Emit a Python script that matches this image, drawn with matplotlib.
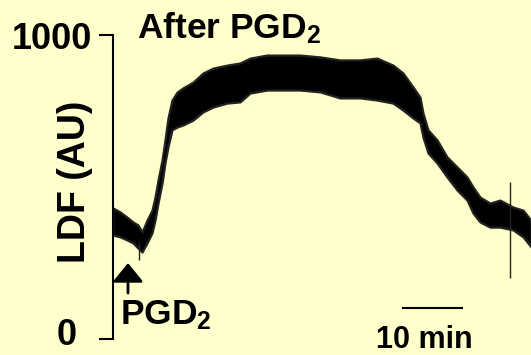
import numpy as np
import matplotlib.pyplot as plt

plt.rcParams['font.family'] = 'Liberation Sans'
plt.rcParams['font.weight'] = 'bold'
plt.rcParams['mathtext.fontset'] = 'custom'
plt.rcParams['mathtext.rm'] = 'Liberation Sans:bold'
plt.rcParams['mathtext.it'] = 'Liberation Sans:bold'
plt.rcParams['mathtext.bf'] = 'Liberation Sans:bold'

bg = '#FFFFCC'

# LDF trace envelope (min after start of recording, AU)
time_min = [0.0, 1.19, 2.37, 3.39, 4.24, 4.92, 5.76, 6.61, 7.12, 7.63,
            8.31, 8.81, 9.32, 10.0, 10.85, 11.86, 13.56, 15.25, 16.95,
            19.32, 21.53, 23.22, 26.1, 28.81, 31.69, 35.08, 38.47, 41.86,
            44.75, 47.46, 49.15, 50.85, 52.03, 52.54, 53.39, 54.92, 56.61,
            58.31, 60.0, 61.02, 62.2, 63.9, 65.59, 67.8, 69.49, 70.85]
ldf_upper = [431, 418, 401, 385, 375, 352, 391, 424, 467, 523,
             589, 655, 727, 786, 812, 826, 845, 875, 891,
             901, 908, 924, 934, 934, 934, 928, 918, 918,
             924, 901, 875, 829, 796, 743, 688, 655, 599,
             566, 533, 500, 467, 447, 457, 434, 424, 391]
ldf_lower = [342, 336, 326, 316, 299, 286, 316, 349, 391, 447,
             513, 579, 632, 688, 697, 704, 720, 747, 763,
             776, 780, 809, 819, 819, 819, 813, 793, 793,
             786, 776, 753, 727, 711, 664, 612, 579, 533,
             490, 457, 414, 385, 368, 368, 359, 336, 303]

# isolated spikes in the trace
spike_time = [4.4, 67.3]
spike_lo = [260, 201]
spike_hi = [320, 516]

pgd2_time = 2.54
scalebar_start = 49.15
scalebar_len = 10

fig = plt.figure(figsize=(5.31, 3.55), dpi=100, facecolor=bg)
ax = fig.add_axes([113 / 531, 16 / 355, 418 / 531, 304 / 355])
ax.set_facecolor(bg)

ax.fill_between(time_min, ldf_lower, ldf_upper, facecolor='black',
                edgecolor='#222222', lw=1.6)
ax.vlines(spike_time, spike_lo, spike_hi, color='#222222', lw=1)

ax.set_xlim(0, 418 / 5.9)
ax.set_ylim(0, 1000)
for s in ['top', 'right', 'bottom']:
    ax.spines[s].set_visible(False)
ax.spines['left'].set_linewidth(1.5)
ax.set_xticks([])
ax.set_yticks([0, 1000])
ax.set_yticklabels([])
ax.tick_params(axis='y', length=10, width=1.5, direction='out')

ytr = ax.get_yaxis_transform()
ax.text(-0.05, 985, '1000', transform=ytr, ha='right', va='center',
        fontsize=26, fontweight='bold')
ax.text(-0.086, -20, '0', transform=ytr, ha='right', va='baseline',
        fontsize=26, fontweight='bold', clip_on=False)

fig.text(75 / 531, 1 - 182 / 355, 'LDF (AU)', rotation=90, ha='center',
         va='center', fontsize=27, fontweight='bold')

fig.text(137 / 531, 1 - 38 / 355, 'After PGD$_2$', ha='left',
         va='baseline', fontsize=25.5, fontweight='bold')

# drug application marker
ax.annotate('', xy=(pgd2_time, 250), xytext=(pgd2_time, 151),
            arrowprops=dict(arrowstyle='-|>,head_length=0.58,head_width=0.47',
                            mutation_scale=20, lw=2, color='black',
                            shrinkA=0, shrinkB=0))
fig.text(120 / 531, 1 - 324 / 355, 'PGD$_2$', ha='left', va='baseline',
         fontsize=25.5, fontweight='bold')

# time scale bar
ax.plot([scalebar_start, scalebar_start + scalebar_len], [102, 102],
        color='black', lw=1.5, clip_on=False)
fig.text(424 / 531, 1 - 348 / 355, '10 min', ha='center', va='baseline',
         fontsize=22, fontweight='bold')

fig.savefig('out.png', dpi=100, facecolor=bg)
